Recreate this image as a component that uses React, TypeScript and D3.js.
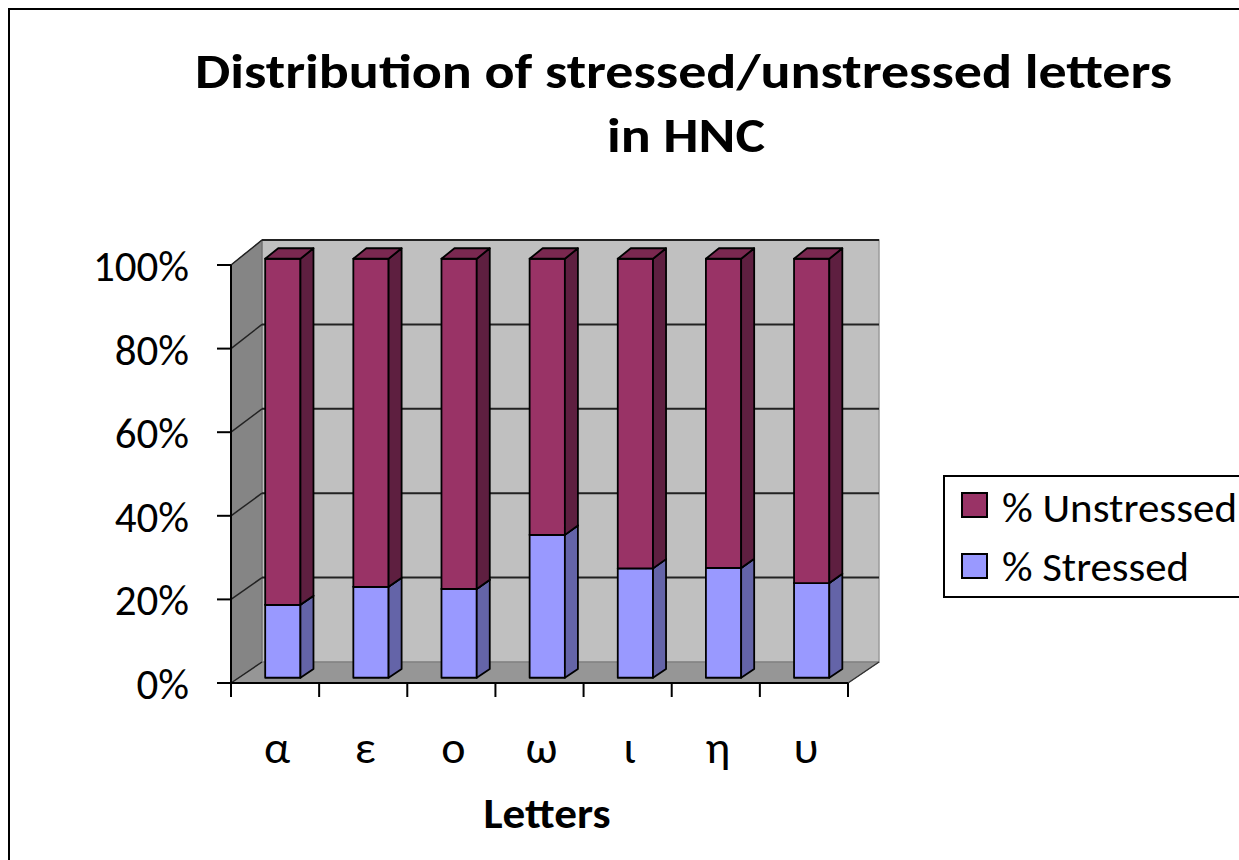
import React from "react";
import * as d3 from "d3";

const categories = ["α", "ε", "ο", "ω", "ι", "η", "υ"];
const stressed = [17.4, 21.7, 21.2, 34.1, 26.1, 26.2, 22.6];
const unstressed = [82.6, 78.3, 78.8, 65.9, 73.9, 73.8, 77.4];
const yTicks = [0, 20, 40, 60, 80, 100];
const seriesNames = ["% Unstressed", "% Stressed"];
const titleLines = ["Distribution of stressed/unstressed letters", "in HNC"];
const xTitle = "Letters";

const FONT = "Carlito, Lato, 'Open Sans', sans-serif";

const colors = {
  unstressed: { front: "#993366", side: "#5e1f40", top: "#7a2850" },
  stressed: { front: "#9999ff", side: "#6464a8", top: "#7f7fd5" },
};

export default function App() {
  const x = d3
    .scaleBand<string>()
    .domain(categories)
    .range([231, 848])
    .paddingInner(0.6)
    .paddingOuter(0.3);
  const yF = d3.scaleLinear().domain([0, 100]).range([683, 265]);
  const yB = d3.scaleLinear().domain([0, 100]).range([662, 240]);
  const DX = 31;
  const P = (px: number, v: number, t: number): [number, number] => [
    px + DX * t,
    yF(v) + (yB(v) - yF(v)) * t,
  ];
  const poly = (pts: [number, number][]) =>
    pts.map((p) => p[0].toFixed(2) + "," + p[1].toFixed(2)).join(" ");

  const t0 = 0.25;
  const t1 = 0.67;
  const xL = 231;
  const xR = 848;

  const step = x.step();
  const tickXs = d3.range(categories.length + 1).map((i) => xL + i * step);

  const segments: { i: number; v0: number; v1: number; c: any }[] = [];
  categories.forEach((_, i) => {
    segments.push({ i, v0: 0, v1: stressed[i], c: colors.stressed });
    segments.push({
      i,
      v0: stressed[i],
      v1: stressed[i] + unstressed[i],
      c: colors.unstressed,
    });
  });

  return (
    <svg
      width={1239}
      height={860}
      style={{ position: "absolute", left: 0, top: 0, background: "#fff" }}
      fontFamily={FONT}
    >
      <rect x={0} y={0} width={1239} height={860} fill="#fff" />
      <rect x={9} y={9} width={2000} height={2000} fill="none" stroke="#000" strokeWidth={2} />

      {/* title */}
      <text x={683.5} y={88} textAnchor="middle" fontSize={48} fontWeight="bold" textLength={977} lengthAdjust="spacingAndGlyphs">
        {titleLines[0]}
      </text>
      <text x={686} y={152} textAnchor="middle" fontSize={48} fontWeight="bold" textLength={158} lengthAdjust="spacingAndGlyphs">
        {titleLines[1]}
      </text>

      {/* walls */}
      <polygon points={poly([P(xL, 0, 1), P(xR, 0, 1), P(xR, 100, 1), P(xL, 100, 1)])} fill="#c0c0c0" stroke="#9a9a9a" strokeWidth={1.5} />
      <polygon points={poly([P(xL, 0, 0), P(xL, 0, 1), P(xL, 100, 1), P(xL, 100, 0)])} fill="#858585" stroke="#666" strokeWidth={1} />
      <polygon points={poly([P(xL, 0, 0), P(xR, 0, 0), P(xR, 0, 1), P(xL, 0, 1)])} fill="#969696" stroke="#777" strokeWidth={1} />

      {/* gridlines */}
      {yTicks.map((v) => (
        <g key={"g" + v}>
          {v > 0 && (
            <line x1={P(xL, v, 1)[0]} y1={P(xL, v, 1)[1]} x2={P(xR, v, 1)[0]} y2={P(xR, v, 1)[1]} stroke="#222" strokeWidth={2} />
          )}
          <line x1={P(xL, v, 0)[0]} y1={P(xL, v, 0)[1]} x2={P(xL, v, 1)[0]} y2={P(xL, v, 1)[1]} stroke="#222" strokeWidth={1.5} />
        </g>
      ))}
      <line x1={P(xR, 0, 0)[0]} y1={P(xR, 0, 0)[1]} x2={P(xR, 0, 1)[0]} y2={P(xR, 0, 1)[1]} stroke="#333" strokeWidth={1.5} />

      {/* bars */}
      {segments.map((s, k) => {
        const cat = categories[s.i];
        const x0 = x(cat)!;
        const x1 = x0 + x.bandwidth();
        return (
          <g key={"s" + k} stroke="#000" strokeWidth={1.8} strokeLinejoin="round">
            <polygon points={poly([P(x0, s.v0, t0), P(x1, s.v0, t0), P(x1, s.v1, t0), P(x0, s.v1, t0)])} fill={s.c.front} />
            <polygon points={poly([P(x1, s.v0, t0), P(x1, s.v0, t1), P(x1, s.v1, t1), P(x1, s.v1, t0)])} fill={s.c.side} />
            <polygon points={poly([P(x0, s.v1, t0), P(x1, s.v1, t0), P(x1, s.v1, t1), P(x0, s.v1, t1)])} fill={s.c.top} />
          </g>
        );
      })}

      {/* axes */}
      <line x1={xL} y1={yF(100)} x2={xL} y2={yF(0)} stroke="#000" strokeWidth={2} />
      <line x1={xL} y1={yF(0)} x2={xR} y2={yF(0)} stroke="#000" strokeWidth={2} />
      {yTicks.map((v) => (
        <g key={"yt" + v}>
          <line x1={xL - 14} y1={yF(v)} x2={xL} y2={yF(v)} stroke="#000" strokeWidth={2} />
          <text x={189} y={yF(v) + 16} textAnchor="end" fontSize={43} fill="#000">
            {v + "%"}
          </text>
        </g>
      ))}
      {tickXs.map((tx, i) => (
        <line key={"xt" + i} x1={tx} y1={yF(0)} x2={tx} y2={yF(0) + 14} stroke="#000" strokeWidth={2} />
      ))}
      {categories.map((c) => (
        <text key={"xl" + c} x={x(c)! + x.bandwidth() / 2 + 2} y={763} textAnchor="middle" fontSize={46} fill="#000">
          {c}
        </text>
      ))}
      <text x={547} y={828} textAnchor="middle" fontSize={42} fontWeight="bold" textLength={127} lengthAdjust="spacingAndGlyphs">
        {xTitle}
      </text>

      {/* legend */}
      <rect x={944} y={476} width={400} height={121} fill="#fff" stroke="#000" strokeWidth={2} />
      <rect x={962} y={493} width={25} height={24} fill={colors.unstressed.front} stroke="#000" strokeWidth={2} />
      <rect x={962} y={554} width={25} height={24} fill={colors.stressed.front} stroke="#000" strokeWidth={2} />
      <text x={1002} y={522} fontSize={42} textLength={235} lengthAdjust="spacingAndGlyphs">
        {seriesNames[0]}
      </text>
      <text x={1002} y={581} fontSize={42} textLength={187} lengthAdjust="spacingAndGlyphs">
        {seriesNames[1]}
      </text>
    </svg>
  );
}
